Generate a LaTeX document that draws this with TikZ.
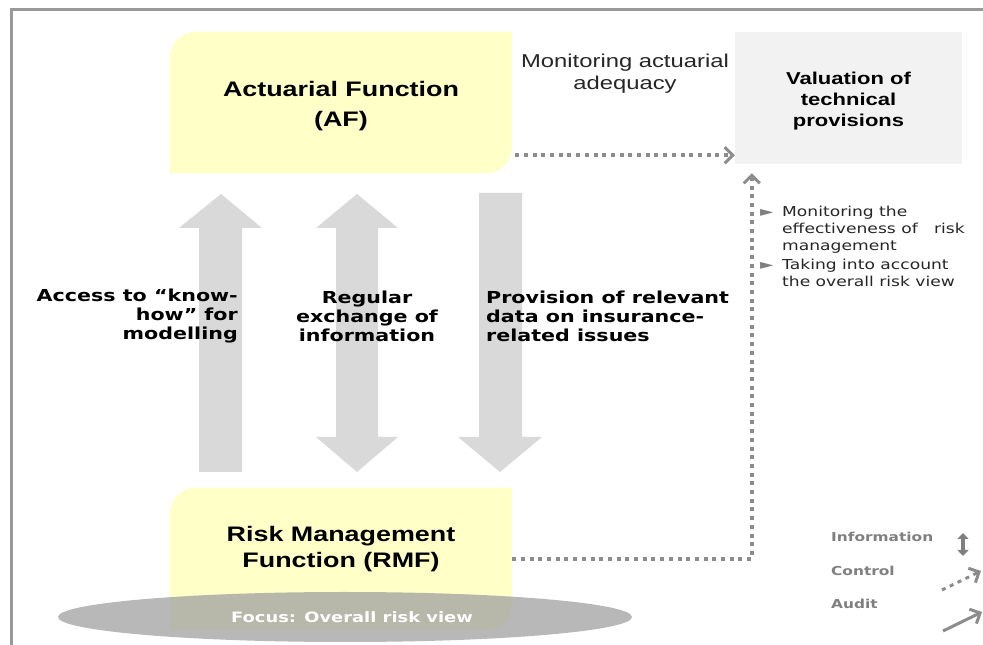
\documentclass[tikz,border=0pt]{standalone}
\usepackage{fontspec}
\usetikzlibrary{arrows.meta,shapes.geometric,backgrounds,positioning}
\newfontfamily\arialfont[FakeStretch=1.28]{Liberation Sans}
\newfontfamily\verdfont[FakeStretch=1.25]{DejaVu Sans}
\definecolor{afyellow}{HTML}{FFFFC8}
\definecolor{valgray}{HTML}{F2F2F2}
\definecolor{arrowgray}{HTML}{D9D9D9}
\definecolor{linegray}{HTML}{8C8C8C}
\definecolor{framegray}{HTML}{999999}
\definecolor{focusgray}{HTML}{A0A0A0}
\definecolor{legendgray}{HTML}{7F7F7F}

\begin{document}
\begin{tikzpicture}[x=1pt,y=1pt,
    title/.style={font=\arialfont\bfseries\fontsize{21}{30}\selectfont, align=center, inner sep=0pt},
    valtitle/.style={font=\arialfont\bfseries\fontsize{17.2}{21}\selectfont, align=center, inner sep=0pt},
    note/.style={font=\arialfont\fontsize{18.6}{22}\selectfont, align=center, text=black!85},
    flowlabel/.style={font=\verdfont\bfseries\fontsize{16.5}{19}\selectfont, inner sep=0pt},
    bullets/.style={font=\verdfont\fontsize{13.7}{17}\selectfont, text=black!85, inner sep=0pt},
    legend/.style={font=\verdfont\bfseries\fontsize{12.3}{14}\selectfont, text=legendgray, anchor=west, inner sep=0pt},
    bigarrow/.style={fill=arrowgray},
    control/.style={draw=linegray, line width=3.5pt, dash pattern=on 4pt off 4.7pt,
      -{Straight Barb[length=8pt,width=16pt,line width=3pt]}}]
  \useasboundingbox (0,0) rectangle (983,645);
  \draw[framegray, line width=3pt] (11,0) -- (11,635) -- (983,635);

  % functions and provisions
  \node[minimum width=342, minimum height=141, inner sep=0pt] (af) at (341,542.5) {};
  \node[title] (aftitle) at ([yshift=-4]af.center) {Actuarial Function\\(AF)};
  \node[fill=valgray, minimum width=227, minimum height=132, inner sep=0pt] (val) at (848.5,547) {};
  \node[valtitle] (valtitle) at ([yshift=-3]val.center) {Valuation of\\technical\\provisions};
  \node[minimum width=342, minimum height=142, inner sep=0pt] (rmf) at (341,86) {};
  \node[title, font=\arialfont\bfseries\fontsize{21}{26}\selectfont] (rmftitle) at ([yshift=10]rmf.center) {Risk Management\\Function (RMF)};
  \begin{scope}[on background layer]
    \foreach \b in {af,rmf}
      \fill[afyellow] (\b.south west) -- ([yshift=-26]\b.north west) arc[start angle=180, end angle=90, radius=26]
        -- (\b.north east) -- ([yshift=26]\b.south east) arc[start angle=0, end angle=-90, radius=26] -- cycle;
  \end{scope}
  \node[ellipse, fill=focusgray, fill opacity=0.75, text opacity=1, text=white, minimum width=574, minimum height=50,
    font=\verdfont\bfseries\fontsize{14.3}{16}\selectfont] (focus) at (345,28) {\hspace{14pt}Focus: Overall risk view};

  % exchange between AF and RMF
  \fill[bigarrow] (199,173) -- (199,417) -- (179,417) -- (221,451) -- (262,417) -- (242,417) -- (242,173) -- cycle;
  \fill[bigarrow] (336,208) -- (336,417) -- (316,417) -- (357,451) -- (398,417) -- (378,417)
    -- (378,208) -- (398,208) -- (357,173) -- (316,208) -- cycle;
  \fill[bigarrow] (479,452) -- (479,208) -- (458,208) -- (500,173) -- (542,208) -- (522,208) -- (522,452) -- cycle;
  \node[flowlabel, align=right, anchor=east] (knowhow) at (238,329) {Access to “know-\\how” for\\modelling};
  \node[flowlabel, align=center] (exchange) at (367,329) {Regular\\exchange of\\information};
  \node[flowlabel, align=left, anchor=west] (provision) at (486,329) {Provision of relevant\\data on insurance-\\related issues};

  % control
  \draw[control] ([shift={(3,18)}]af.south east) -- ([yshift=9]val.south west);
  \draw[control] (rmf.east) -| ([xshift=17,yshift=-9]val.south west);
  \node[note] (adequacy) at (625,571) {Monitoring actuarial\\adequacy};
  \node[bullets, anchor=north west] (checks) at (760,441) {%
    \begin{tabular}{@{}l@{}l@{}}
      \makebox[22pt][l]{\textcolor{legendgray}{\fontsize{14}{10}\selectfont ►}} & Monitoring the\\
      & effectiveness of \ \ risk\\
      & management\\[2pt]
      \makebox[22pt][l]{\textcolor{legendgray}{\fontsize{14}{10}\selectfont ►}} & Taking into account\\
      & the overall risk view
    \end{tabular}};

  % legend
  \node[legend] (info) at (831,108) {Information};
  \node[legend] (ctrl) at (831,74) {Control};
  \node[legend] (audit) at (831,41) {Audit};
  \coordinate (infolo) at (963,89);
  \coordinate (infohi) at (963,112);
  \coordinate (ctrlfrom) at (942,55);
  \coordinate (ctrlto) at (981,74);
  \coordinate (auditfrom) at (943,14);
  \coordinate (auditto) at (982,33);
  \draw[legendgray, line width=4pt, {Triangle[length=6pt,width=11pt]}-{Triangle[length=6pt,width=11pt]}] (infolo) -- (infohi);
  \draw[control, line width=3pt] (ctrlfrom) -- (ctrlto);
  \draw[linegray, line width=3pt, -{Straight Barb[length=8pt,width=16pt,line width=3pt]}] (auditfrom) -- (auditto);
\end{tikzpicture}
\end{document}
